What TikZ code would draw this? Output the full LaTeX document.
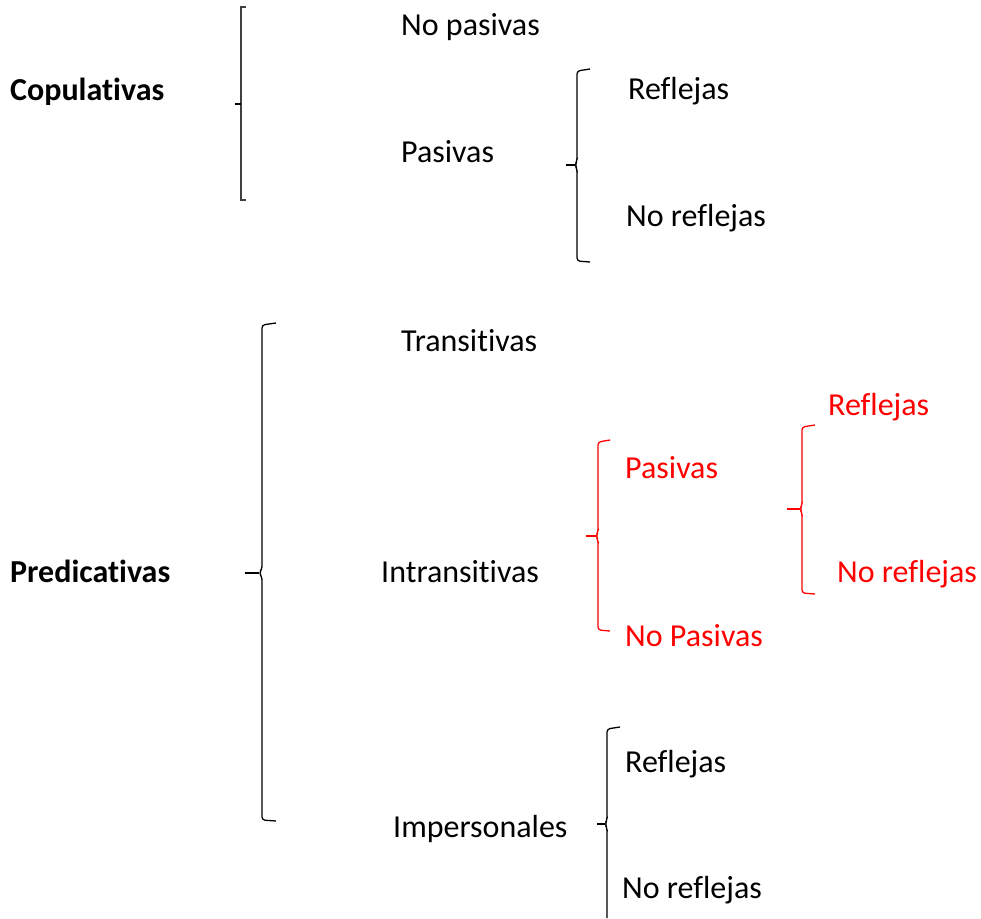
\documentclass[tikz,border=0pt]{standalone}
\usepackage{fontspec}
\setmainfont[Ligatures={NoCommon}]{Carlito}
\definecolor{redtxt}{RGB}{255,0,0}
\begin{document}
\begin{tikzpicture}[x=1pt,y=-1pt,
  lbl/.style={anchor=base west,inner sep=0pt,font=\fontsize{32}{38}\selectfont},
  red lbl/.style={lbl,text=redtxt},
  bold lbl/.style={lbl,font=\fontsize{32}{38}\selectfont\bfseries},
  brc/.style={line width=1.3pt,rounded corners=3pt},
  tick/.style={line width=1.6pt}]
\useasboundingbox (0,0) rectangle (981,918);
% labels
\node[lbl] (nopas) at (401,35) {No pasivas};
\node[bold lbl] (cop) at (10,100) {Copulativas};
\node[lbl] (refl1) at (628,99) {Reflejas};
\node[lbl] (pas) at (401,162) {Pasivas};
\node[lbl] (noref1) at (626,226) {No reflejas};
\node[lbl] (trans) at (401,351) {Transitivas};
\node[red lbl] (refl2) at (828,415) {Reflejas};
\node[red lbl] (pas2) at (625,478) {Pasivas};
\node[bold lbl] (pred) at (10,582) {Predicativas};
\node[lbl] (intr) at (381,582) {Intransitivas};
\node[red lbl] (noref2) at (837,582) {No reflejas};
\node[red lbl] (nopas2) at (625,646) {No Pasivas};
\node[lbl] (refl3) at (625,772) {Reflejas};
\node[lbl] (imp) at (393,837) {Impersonales};
\node[lbl] (noref3) at (622,898) {No reflejas};
% brace 1 (Copulativas)
\draw[line width=1.3pt,draw=black!75] (246,7) -- (241,7) -- (241,200) -- (246,200);
\draw[tick] (235,104) -- (241,104);
% brace 2 (Pasivas)
\draw[brc] (590,69) -- (577,71) -- (577,161) -- (575,165) -- (577,169) -- (577,261) -- (590,262);
\draw[tick] (566,165) -- (575,165);
% brace 3 (Predicativas)
\draw[brc] (276,323) -- (262,325) -- (262,569) -- (259,573) -- (262,577) -- (262,820) -- (276,821);
\draw[tick] (245,573) -- (259,573);
% brace 4 (red, Intransitivas)
\draw[brc,draw=redtxt] (610,440) -- (598,442) -- (598,532) -- (596,536) -- (598,540) -- (598,630) -- (610,631);
\draw[tick,draw=redtxt] (586,536) -- (596,536);
% brace 5 (red, Pasivas)
\draw[brc,draw=redtxt] (815,425) -- (802,427) -- (802,505) -- (800,509) -- (802,513) -- (802,593) -- (815,594);
\draw[tick,draw=redtxt] (787,509) -- (800,509);
% brace 6 (Impersonales)
\draw[brc] (620,727) -- (607,729) -- (607,820) -- (605,824) -- (607,828) -- (607,918);
\draw[tick] (597,824) -- (605,824);
\end{tikzpicture}
\end{document}
